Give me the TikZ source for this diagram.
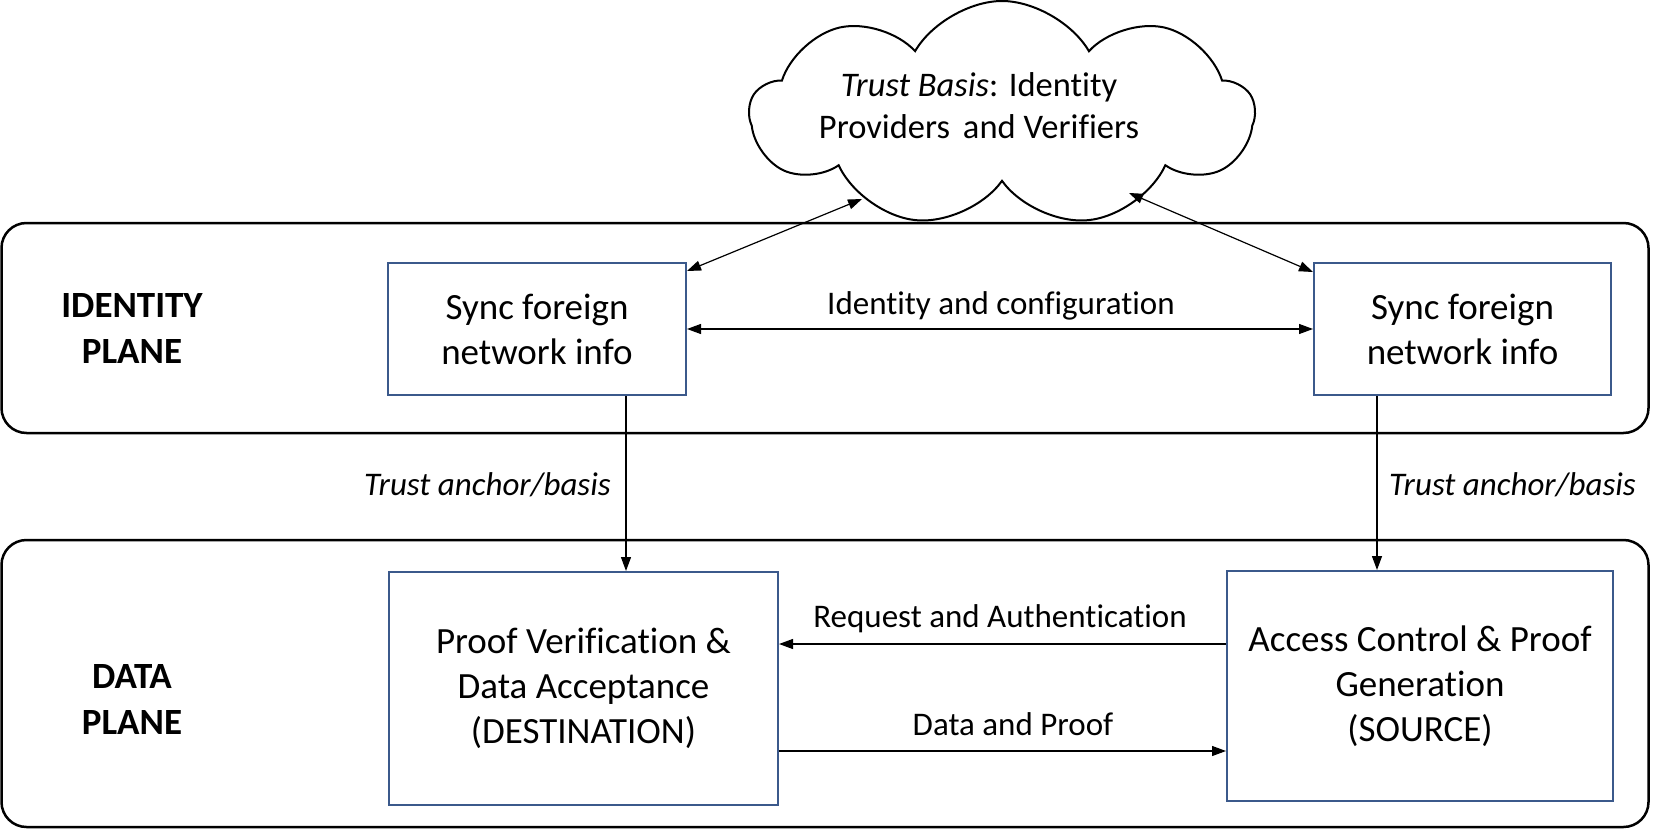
\documentclass[tikz,border=0pt]{standalone}
\usepackage{fontspec}
\setmainfont{Carlito}[Ligatures=NoCommon]
\usetikzlibrary{arrows.meta,shapes.symbols,calc}
\definecolor{boxblue}{RGB}{59,89,139}
\begin{document}
\begin{tikzpicture}[x=1pt,y=-1pt,
  plane/.style={draw=black, line width=2.5pt, rounded corners=25pt, inner sep=0pt},
  infobox/.style={draw=boxblue, line width=2pt, align=center, inner sep=0pt, font=\fontsize{37}{45}\selectfont},
  lbl/.style={font=\fontsize{33}{39}\selectfont, inner sep=0pt},
  planelbl/.style={font=\fontsize{37}{46}\selectfont\bfseries, align=center, inner sep=0pt},
  arr/.style={line width=1.2pt, -{Triangle[length=14pt,width=10pt]}},
  darr/.style={line width=1.2pt, {Triangle[length=14pt,width=10pt]}-{Triangle[length=14pt,width=10pt]}}]
\useasboundingbox (0,0) rectangle (1659,829);

% planes
\node[plane, minimum width=1647, minimum height=210] (idp) at (825,328) {};
\node[plane, minimum width=1647, minimum height=287] (dp) at (825,683.5) {};
\node[planelbl] (idl) at (132,329) {IDENTITY\\PLANE};
\node[planelbl] (dpl) at (132,699) {DATA\\PLANE};

% cloud
\node[cloud, draw, line width=2pt, cloud puffs=9, cloud puff arc=120, aspect=2.3,
      minimum width=504, minimum height=226, inner sep=0pt] (cl) at (1002,114) {};
\node[font=\fontsize{34.5}{42}\selectfont, align=center, inner sep=0pt] (clt) at (979,106)
  {\textit{Trust Basis}: Identity\\Providers\hspace{0.15em} and Verifiers};
\coordinate (cA) at (862,199);
\coordinate (cB) at (1129,193);

% boxes
\node[infobox, minimum width=298, minimum height=132] (sL) at (537,329) {Sync foreign\\network info};
\node[infobox, minimum width=297, minimum height=132] (sR) at (1462.5,329) {Sync foreign\\network info};
\node[infobox, minimum width=389, minimum height=233] (pv) at (583.5,688.5) {Proof Verification \&\\Data Acceptance\\(DESTINATION)};
\node[infobox, minimum width=386, minimum height=230] (ac) at (1420,686) {Access Control \& Proof\\Generation\\(SOURCE)};

% connector end points on box edges
\coordinate (sLa) at ($(sL.north east)+(0,9)$);
\coordinate (sRa) at ($(sR.north west)+(0,10)$);
\coordinate (sLb) at ($(sL.south west)+(239,0)$);
\coordinate (sRb) at ($(sR.south west)+(64,0)$);
\coordinate (acr) at ($(ac.north west)+(0,74)$);
\coordinate (pvd) at ($(pv.north east)+(0,180)$);

% connectors
\draw[darr] (cA) -- (sLa);
\draw[darr] (cB) -- (sRa);
\draw[darr] (sL.east) -- (sR.west);
\draw[arr] (sLb) -- (sLb |- pv.north);
\draw[arr] (sRb) -- (sRb |- ac.north);
\draw[arr] (acr) -- (acr -| pv.east);
\draw[arr] (pvd) -- (pvd -| ac.west);

% labels
\node[lbl, anchor=base] (l1) at (1001,314) {Identity and configuration};
\node[lbl, anchor=base east] (l2) at (611,495) {\textit{Trust anchor/basis}};
\node[lbl, anchor=base west] (l3) at (1389,495) {\textit{Trust anchor/basis}};
\node[lbl, anchor=base] (l4) at (1000,627) {Request and Authentication};
\node[lbl, anchor=base] (l5) at (1013,735) {Data and Proof};
\end{tikzpicture}
\end{document}
